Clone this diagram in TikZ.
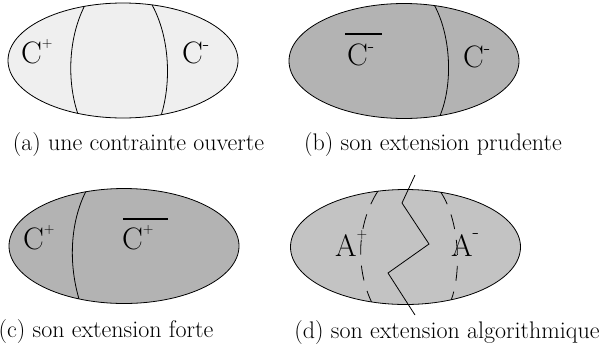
\documentclass[tikz,border=0pt]{standalone}
\definecolor{pale}{HTML}{EFEFEF}
\definecolor{dark}{HTML}{B3B3B3}
\definecolor{mid}{HTML}{C3C3C3}
\newcommand\up[2][16pt]{\raisebox{#1}{\fontsize{14}{14}\selectfont #2}}
\newcommand\dn[1][13pt]{\raisebox{#1}{\fontsize{21}{21}\selectfont -}}

\begin{document}
\begin{tikzpicture}[x=1pt, y=-1pt,
    every node/.style={inner sep=0pt},
    oval/.style={x radius=115, y radius=57.5},
    rim/.style={line width=0.8pt},
    cut/.style={line width=0.8pt},
    gap/.style={line width=0.8pt, dash pattern=on 15pt off 11pt},
    bar/.style={line width=2.6pt},
    lbl/.style={font=\rmfamily\fontsize{31}{32}\selectfont, anchor=base west},
    captext/.style={font=\rmfamily\fontsize{24}{26}\selectfont, anchor=base},
]
\useasboundingbox (0,0) rectangle (599,349);

% the four sets
\coordinate (ea) at (123,60.5);
\coordinate (eb) at (404,61);
\coordinate (ec) at (124,246);
\coordinate (ed) at (405.5,247);
\foreach \e/\col in {ea/pale, eb/dark, ec/dark, ed/mid}{
    \fill[\col] (\e) ellipse [oval];
}

% (a) two borders
\begin{scope}
    \clip (ea) ellipse [oval];
    \draw[cut] (89,-2) .. controls (66,35) and (66,90) .. (82,124);
    \draw[cut] (148,-2) .. controls (172,35) and (172,90) .. (158,124);
\end{scope}

% (b) one border
\begin{scope}
    \clip (eb) ellipse [oval];
    \draw[cut] (430,-2) .. controls (452,30) and (455,90) .. (436,124);
\end{scope}

% (c) one border
\begin{scope}
    \clip (ec) ellipse [oval];
    \draw[cut] (90,184) .. controls (68,220) and (68,270) .. (82,308);
\end{scope}

% (d) dashed borders and the cut
\begin{scope}
    \clip (ed) ellipse [oval];
    \draw[gap] (378,191) .. controls (356,225) and (356,270) .. (372,303);
    \draw[gap] (440,191) .. controls (460,220) and (462,275) .. (450,303);
\end{scope}
\coordinate (z0) at (415,175);
\coordinate (z1) at (402,203);
\coordinate (z2) at (429,244);
\coordinate (z3) at (388,273);
\coordinate (z4) at (415,315);
\draw[cut] (z0) -- (z1) -- (z2) -- (z3) -- (z4);

\foreach \e in {ea, eb, ec, ed}{
    \draw[rim] (\e) ellipse [oval];
}

% labels
\node[lbl] (cpa) at (21,63) {C\up{+}};
\node[lbl] (cma) at (182,63) {C\dn};
\node[lbl] (cmbar) at (347,65) {C\dn};
\node[lbl] (cmb) at (463,67) {C\dn};
\node[lbl] (cpc) at (23,249) {C\up{+}};
\node[lbl] (cpbar) at (122,249) {C\up{+}};
\node[lbl] (apd) at (335,256) {A\up[18pt]{+}};
\node[lbl] (amd) at (451,256) {A\dn[18pt]};
\draw[bar] ([shift={(-2,-31)}]cmbar.base west) -- ([shift={(8,-31)}]cmbar.base east);
\draw[bar] ([shift={(1,-30)}]cpbar.base west) -- ([shift={(14,-30)}]cpbar.base east);

% captions
\node[captext] (capa) at (138.5,150) {(a) une contrainte ouverte};
\node[captext] (capb) at (433,150) {(b) son extension prudente};
\node[captext] (capc) at (106,337) {(c) son extension forte};
\node[captext] (capd) at (447,338) {(d) son extension algorithmique};
\end{tikzpicture}
\end{document}
